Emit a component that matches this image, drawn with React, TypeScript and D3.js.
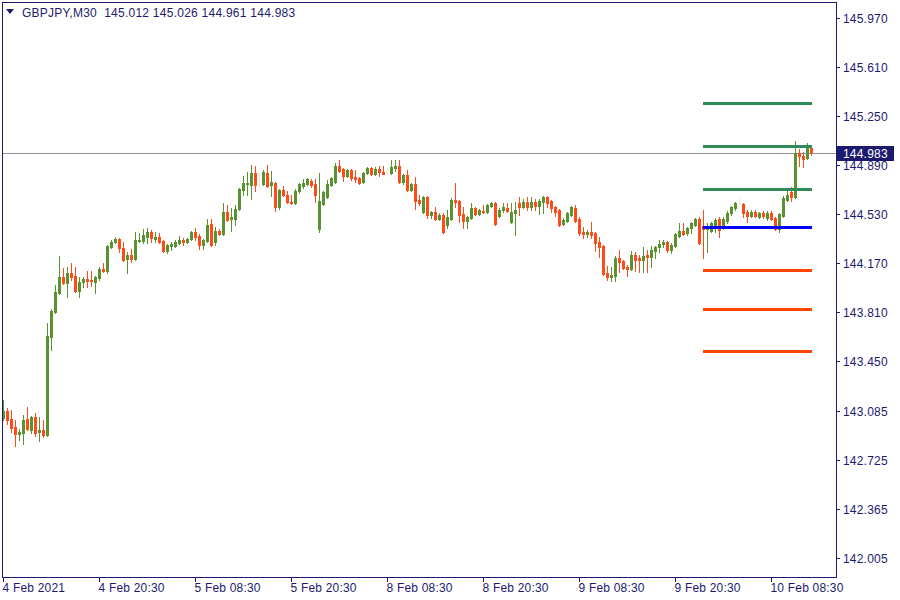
import React from "react";
import * as d3 from "d3";

const SYMBOL = "GBPJPY,M30";

const OPEN = [
  143.033, 143.084, 143.025, 142.966, 142.915, 142.922, 143.025, 142.944, 143.040, 142.929,
  142.944, 142.907, 143.627, 143.811, 143.951, 144.068, 144.024, 144.097, 144.075, 143.965,
  144.031, 144.053, 144.046, 144.031, 144.061, 144.127, 144.112, 144.288, 144.325, 144.347,
  144.281, 144.200, 144.230, 144.200, 144.332, 144.332, 144.362, 144.398, 144.347, 144.362,
  144.332, 144.259, 144.296, 144.296, 144.318, 144.340, 144.325, 144.347, 144.398, 144.369,
  144.303, 144.332, 144.457, 144.325, 144.406, 144.384, 144.546, 144.494, 144.494, 144.567,
  144.707, 144.751, 144.744, 144.832, 144.780, 144.751, 144.832, 144.744, 144.758, 144.582,
  144.707, 144.670, 144.619, 144.611, 144.700, 144.736, 144.751, 144.773, 144.751, 144.420,
  144.604, 144.655, 144.744, 144.766, 144.883, 144.861, 144.810, 144.854, 144.802, 144.795,
  144.766, 144.832, 144.868, 144.824, 144.861, 144.839, 144.839, 144.832, 144.868, 144.883,
  144.766, 144.817, 144.707, 144.751, 144.633, 144.546, 144.655, 144.523, 144.546, 144.494,
  144.523, 144.450, 144.494, 144.633, 144.626, 144.531, 144.479, 144.501, 144.575, 144.531,
  144.553, 144.546, 144.589, 144.611, 144.516, 144.560, 144.575, 144.472, 144.538, 144.611,
  144.582, 144.619, 144.582, 144.619, 144.589, 144.619, 144.655, 144.626, 144.582, 144.560,
  144.457, 144.479, 144.523, 144.575, 144.494, 144.398, 144.384, 144.398, 144.391, 144.325,
  144.296, 144.097, 144.068, 144.075, 144.208, 144.186, 144.141, 144.127, 144.230, 144.208,
  144.193, 144.230, 144.215, 144.259, 144.288, 144.310, 144.325, 144.266, 144.296, 144.369,
  144.406, 144.391, 144.428, 144.450, 144.494, 144.443, 144.420, 144.406, 144.428, 144.494,
  144.428, 144.479, 144.538, 144.575, 144.611, 144.604, 144.546, 144.516, 144.546, 144.509,
  144.538, 144.501, 144.538, 144.501, 144.420, 144.516, 144.633, 144.692, 144.655, 144.979,
  144.956, 144.942, 145.012,
];

const HIGH = [
  143.165, 143.106, 143.091, 143.018, 142.951, 143.054, 143.113, 143.047, 143.069, 143.040,
  143.018, 143.730, 143.833, 144.009, 144.222, 144.134, 144.141, 144.171, 144.141, 144.068,
  144.068, 144.112, 144.112, 144.075, 144.141, 144.171, 144.303, 144.340, 144.362, 144.354,
  144.325, 144.252, 144.274, 144.398, 144.391, 144.420, 144.428, 144.413, 144.398, 144.391,
  144.340, 144.310, 144.325, 144.340, 144.369, 144.354, 144.354, 144.406, 144.428, 144.384,
  144.347, 144.494, 144.494, 144.435, 144.420, 144.611, 144.597, 144.575, 144.597, 144.721,
  144.810, 144.839, 144.890, 144.883, 144.832, 144.854, 144.890, 144.846, 144.766, 144.714,
  144.736, 144.700, 144.670, 144.714, 144.758, 144.788, 144.795, 144.788, 144.788, 144.832,
  144.700, 144.780, 144.802, 144.905, 144.927, 144.868, 144.861, 144.861, 144.854, 144.802,
  144.839, 144.876, 144.876, 144.876, 144.883, 144.883, 144.868, 144.927, 144.927, 144.927,
  144.824, 144.854, 144.758, 144.802, 144.670, 144.663, 144.663, 144.553, 144.582, 144.538,
  144.538, 144.560, 144.648, 144.758, 144.633, 144.582, 144.516, 144.611, 144.582, 144.567,
  144.597, 144.604, 144.619, 144.619, 144.575, 144.611, 144.611, 144.611, 144.619, 144.655,
  144.641, 144.655, 144.655, 144.641, 144.641, 144.663, 144.663, 144.633, 144.589, 144.567,
  144.501, 144.546, 144.589, 144.597, 144.509, 144.435, 144.413, 144.472, 144.398, 144.362,
  144.303, 144.149, 144.141, 144.222, 144.266, 144.193, 144.156, 144.259, 144.252, 144.230,
  144.288, 144.266, 144.296, 144.296, 144.340, 144.340, 144.332, 144.318, 144.391, 144.465,
  144.465, 144.435, 144.472, 144.501, 144.509, 144.560, 144.465, 144.472, 144.501, 144.509,
  144.509, 144.553, 144.589, 144.619, 144.648, 144.611, 144.560, 144.560, 144.560, 144.546,
  144.553, 144.553, 144.553, 144.509, 144.538, 144.663, 144.700, 144.729, 145.067, 145.008,
  144.986, 145.052, 145.026,
];

const LOW = [
  143.018, 142.989, 142.929, 142.827, 142.871, 142.842, 142.944, 142.922, 142.900, 142.864,
  142.893, 142.900, 143.532, 143.804, 143.943, 144.017, 143.921, 144.046, 143.958, 143.921,
  143.995, 143.995, 144.002, 143.951, 144.046, 144.105, 144.097, 144.281, 144.318, 144.252,
  144.186, 144.097, 144.178, 144.193, 144.325, 144.318, 144.318, 144.325, 144.325, 144.318,
  144.252, 144.244, 144.266, 144.288, 144.310, 144.303, 144.318, 144.340, 144.340, 144.274,
  144.274, 144.325, 144.296, 144.303, 144.376, 144.376, 144.479, 144.406, 144.450, 144.560,
  144.670, 144.670, 144.641, 144.700, 144.707, 144.744, 144.729, 144.663, 144.553, 144.567,
  144.663, 144.611, 144.604, 144.604, 144.685, 144.722, 144.744, 144.729, 144.619, 144.398,
  144.597, 144.648, 144.736, 144.758, 144.839, 144.773, 144.802, 144.780, 144.766, 144.751,
  144.758, 144.824, 144.817, 144.817, 144.810, 144.824, 144.824, 144.824, 144.846, 144.758,
  144.751, 144.700, 144.700, 144.567, 144.597, 144.538, 144.502, 144.502, 144.487, 144.487,
  144.391, 144.428, 144.487, 144.582, 144.472, 144.428, 144.428, 144.494, 144.523, 144.523,
  144.538, 144.538, 144.582, 144.450, 144.509, 144.546, 144.546, 144.465, 144.376, 144.523,
  144.575, 144.560, 144.560, 144.560, 144.531, 144.538, 144.582, 144.546, 144.516, 144.443,
  144.450, 144.472, 144.516, 144.472, 144.376, 144.354, 144.362, 144.354, 144.259, 144.215,
  144.083, 144.046, 144.039, 144.039, 144.105, 144.127, 144.075, 144.119, 144.112, 144.105,
  144.105, 144.105, 144.141, 144.208, 144.252, 144.288, 144.252, 144.244, 144.288, 144.362,
  144.376, 144.376, 144.391, 144.443, 144.310, 144.208, 144.252, 144.398, 144.398, 144.362,
  144.420, 144.465, 144.523, 144.560, 144.589, 144.509, 144.472, 144.509, 144.509, 144.501,
  144.501, 144.487, 144.487, 144.413, 144.398, 144.509, 144.626, 144.626, 144.648, 144.883,
  144.876, 144.934, 144.961,
];

const CLOSE = [
  143.084, 143.018, 142.959, 142.915, 142.929, 143.018, 142.951, 143.040, 142.922, 142.944,
  142.907, 143.635, 143.818, 143.958, 144.068, 144.024, 144.097, 144.068, 143.965, 144.031,
  144.053, 144.039, 144.039, 144.068, 144.127, 144.112, 144.296, 144.325, 144.347, 144.281,
  144.193, 144.230, 144.200, 144.340, 144.340, 144.376, 144.398, 144.354, 144.362, 144.325,
  144.259, 144.303, 144.310, 144.325, 144.340, 144.325, 144.347, 144.398, 144.362, 144.303,
  144.340, 144.450, 144.303, 144.406, 144.384, 144.546, 144.487, 144.509, 144.567, 144.714,
  144.758, 144.758, 144.832, 144.744, 144.780, 144.839, 144.736, 144.766, 144.582, 144.707,
  144.670, 144.619, 144.611, 144.700, 144.751, 144.758, 144.788, 144.744, 144.670, 144.626,
  144.692, 144.751, 144.795, 144.883, 144.846, 144.810, 144.854, 144.795, 144.788, 144.758,
  144.832, 144.868, 144.824, 144.861, 144.839, 144.828, 144.839, 144.876, 144.883, 144.766,
  144.817, 144.707, 144.751, 144.626, 144.611, 144.655, 144.523, 144.546, 144.494, 144.523,
  144.398, 144.509, 144.633, 144.619, 144.523, 144.479, 144.509, 144.575, 144.531, 144.560,
  144.546, 144.597, 144.611, 144.457, 144.560, 144.582, 144.553, 144.546, 144.560, 144.582,
  144.619, 144.582, 144.619, 144.589, 144.626, 144.655, 144.611, 144.575, 144.546, 144.450,
  144.487, 144.538, 144.582, 144.479, 144.391, 144.384, 144.398, 144.376, 144.318, 144.288,
  144.090, 144.068, 144.083, 144.208, 144.178, 144.134, 144.127, 144.230, 144.193, 144.193,
  144.222, 144.215, 144.266, 144.288, 144.310, 144.325, 144.266, 144.303, 144.384, 144.406,
  144.384, 144.428, 144.465, 144.494, 144.318, 144.420, 144.443, 144.465, 144.487, 144.413,
  144.494, 144.538, 144.582, 144.611, 144.611, 144.538, 144.516, 144.546, 144.516, 144.538,
  144.516, 144.538, 144.494, 144.420, 144.531, 144.648, 144.670, 144.655, 144.979, 144.956,
  144.934, 145.030, 144.983,
];

const PRICE_TICKS = [
  145.970, 145.610, 145.250, 144.890, 144.530, 144.170,
  143.810, 143.450, 143.085, 142.725, 142.365, 142.005,
];

const TIME_LABELS = [
  "4 Feb 2021", "4 Feb 20:30", "5 Feb 08:30", "5 Feb 20:30", "8 Feb 08:30",
  "8 Feb 20:30", "9 Feb 08:30", "9 Feb 20:30", "10 Feb 08:30",
];
const TIME_LABEL_BARS = [0, 24, 48, 72, 96, 120, 144, 168, 192];

const RESISTANCE = [145.346, 145.030, 144.712];
const PIVOT = 144.433;
const SUPPORT = [144.120, 143.833, 143.525];
const PIVOT_START_BAR = 175;

const W = 900;
const H = 600;
const FRAME = { left: 2, top: 2, right: 836, bottom: 577 };
const TEXT = "#1c1a6e";
const BULL = "#5a922f";
const BEAR = "#ff4a1a";
const DOJI = "#f0e6e2";
const FONT = "'Liberation Sans', Arial, sans-serif";

export default function App() {
  const n = OPEN.length;
  const x = d3.scaleLinear().domain([0, n]).range([FRAME.left, FRAME.left + 4 * n]);
  const y = d3.scaleLinear().domain([142.005, 145.970]).range([558, 18]);
  const ry = (v: number) => Math.round(y(v));

  const candles = d3.range(n).map((i) => {
    const o = OPEN[i], h = HIGH[i], l = LOW[i], c = CLOSE[i];
    const color = c > o ? BULL : c < o ? BEAR : DOJI;
    const bx = Math.round(x(i));
    const top = ry(Math.max(o, c));
    const bot = ry(Math.min(o, c));
    const wt = ry(h);
    const wb = ry(l);
    return (
      <g key={i} fill={color}>
        <rect x={bx + 1} y={wt} width={1} height={Math.max(1, wb - wt + 1)} />
        <rect x={bx} y={top} width={3} height={Math.max(1, bot - top + 1)} />
      </g>
    );
  });

  const lastClose = CLOSE[n - 1];
  const yLast = ry(lastClose) + 1.5;
  const px0 = Math.round(x(PIVOT_START_BAR)) + 1;
  const px1 = Math.round(x(n - 1)) + 2;

  const levels = [
    ...RESISTANCE.map((v) => ({ v, c: "#2e8b57" })),
    { v: PIVOT, c: "#0000ff" },
    ...SUPPORT.map((v) => ({ v, c: "#ff4500" })),
  ];

  return (
    <svg
      width={W}
      height={H}
      style={{ position: "fixed", left: 0, top: 0, background: "#fff" }}
      fontFamily={FONT}
      shapeRendering="crispEdges"
    >
      <rect x={0} y={0} width={W} height={H} fill="#fff" />
      {/* price line */}
      <line x1={FRAME.left} x2={FRAME.right} y1={yLast} y2={yLast} stroke="#8a8f98" strokeWidth={1} />
      {candles}
      {levels.map((l, i) => (
        <rect key={i} x={px0} y={ry(l.v) - 1} width={px1 - px0} height={3} fill={l.c} />
      ))}
      {/* frame */}
      <rect
        x={FRAME.left + 0.5}
        y={FRAME.top + 0.5}
        width={FRAME.right - FRAME.left}
        height={FRAME.bottom - FRAME.top}
        fill="none"
        stroke={TEXT}
        strokeWidth={1}
      />
      {/* y axis */}
      {PRICE_TICKS.map((p, i) => (
        <g key={i}>
          <line x1={FRAME.right} x2={FRAME.right + 4} y1={ry(p) + 0.5} y2={ry(p) + 0.5} stroke={TEXT} />
          <text x={FRAME.right + 7} y={ry(p) + 4.5} fontSize={12} fill={TEXT} letterSpacing={0.2}>
            {p.toFixed(3)}
          </text>
        </g>
      ))}
      {/* last price label */}
      <rect x={FRAME.right + 1} y={yLast - 7.5} width={57} height={15} fill={TEXT} />
      <text x={FRAME.right + 7} y={yLast + 4.5} fontSize={12} fill="#fff" letterSpacing={0.2}>
        {lastClose.toFixed(3)}
      </text>
      {/* x axis */}
      {TIME_LABEL_BARS.map((b, i) => {
        const tx = Math.round(x(b)) + 1.5;
        return (
          <g key={i}>
            <line x1={tx} x2={tx} y1={FRAME.bottom} y2={FRAME.bottom + 5} stroke={TEXT} />
            <text x={tx - 1} y={FRAME.bottom + 15} fontSize={12} fill={TEXT} letterSpacing={0.2}>
              {TIME_LABELS[i]}
            </text>
          </g>
        );
      })}
      {/* title */}
      <path d="M6,9 L14,9 L10,14 Z" fill={TEXT} shapeRendering="auto" />
      <text x={22} y={17} fontSize={12} fill={TEXT} xmlSpace="preserve" letterSpacing={0.25}>
        {`${SYMBOL}  ${OPEN[n - 1].toFixed(3)} ${HIGH[n - 1].toFixed(3)} ${LOW[n - 1].toFixed(3)} ${CLOSE[n - 1].toFixed(3)}`}
      </text>
    </svg>
  );
}
